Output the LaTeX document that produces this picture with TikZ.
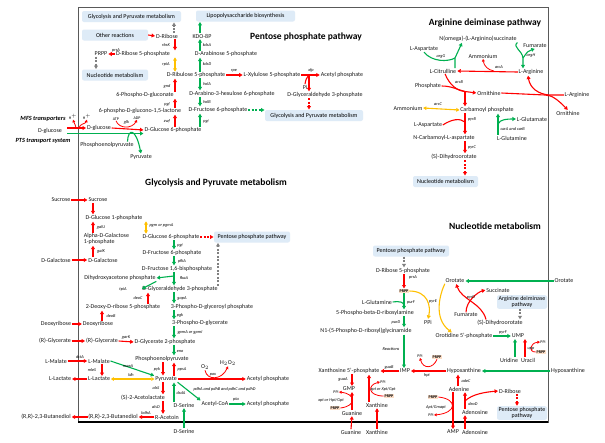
\documentclass[tikz,border=0pt]{standalone}
\usepackage{fontspec}
\setmainfont{Carlito}
\usetikzlibrary{arrows.meta}
\definecolor{myred}{RGB}{255,0,0}
\definecolor{mygreen}{RGB}{0,176,80}
\definecolor{myyel}{RGB}{255,192,0}
\definecolor{boxblue}{RGB}{222,235,247}
\definecolor{prppc}{RGB}{251,222,200}
\tikzset{
 lbl/.style={font=\fontsize{6}{6.6}\selectfont, inner sep=0.6pt, text=black!90},
 enz/.style={font=\fontsize{4.3}{4.6}\selectfont\itshape, inner sep=0.3pt},
 ttl/.style={font=\fontsize{9.5}{10}\selectfont\bfseries, inner sep=0pt},
 trs/.style={font=\fontsize{6.3}{7}\selectfont\bfseries\itshape, inner sep=0pt},
 pwbox/.style={fill=boxblue, rounded corners=2pt, font=\fontsize{6}{6.6}\selectfont, inner sep=1pt, minimum height=11pt},
 prppbox/.style={fill=prppc, font=\fontsize{4}{4.5}\selectfont\bfseries, inner sep=0.8pt},
 arr/.style={line width=1.1pt, -{Triangle[length=3.4pt,width=3.8pt]}, shorten >=0.3pt},
 redar/.style={arr, draw=myred},
 grnar/.style={arr, draw=mygreen},
 yelone/.style={arr, draw=myyel},
 yelar/.style={line width=1.1pt, draw=myyel, {Triangle[length=3.2pt,width=3.6pt]}-{Triangle[length=3.2pt,width=3.6pt]}},
 thinr/.style={line width=0.8pt, draw=myred, -{Triangle[length=2.6pt,width=2.8pt]}},
 dsh/.style={dash pattern=on 2pt off 1.5pt},
 greyd/.style={arr, draw=gray, dsh},
 frame/.style={draw=black!65, line width=1pt}
}
\begin{document}
\begin{tikzpicture}[x=1pt,y=-1pt]
\useasboundingbox (0,0) rectangle (605,442);
\fill[white] (0,0) rectangle (605,442);
\draw[frame] (78,7) rectangle (548,422);
\draw[black, line width=1.3pt] (78,422) -- (548,422);

% column coordinates
\coordinate (cA) at (175,0);
\coordinate (cB) at (200,0);
\coordinate (cG) at (174,0);
\coordinate (cP) at (96,0);

% ================= Pentose phosphate pathway =================
\node[pwbox, minimum width=99pt] (gpm1) at (131.5,16.5) {Glycolysis and Pyruvate metabolism};
\node[pwbox, minimum width=99pt] (lps) at (245.5,16) {Lipopolysaccharide biosynthesis};
\node[pwbox, minimum width=66pt] (oth) at (115,35) {Other reactions};
\node[pwbox, minimum width=66pt] (nuc1) at (115,75) {Nucleotide metabolism};
\node[ttl] (tppp) at (306,37) {Pentose phosphate pathway};

\node[lbl] (rib) at (167,36) {D-Ribose};
\node[lbl] (r5p) at (143,54) {D-Ribose 5-phosphate};
\node[lbl] (prpp1) at (101,54) {PRPP};
\node[lbl] (ru5p) at (196,75) {D-Ribulose 5-phosphate};
\node[lbl] (xu5p) at (272,75) {L-Xylulose 5-phosphate};
\node[lbl] (acp1) at (342,75) {Acetyl phosphate};
\node[lbl] (pi1) at (305,87) {Pi};
\node[lbl] (g3p1) at (325,95) {D-Glyceraldehyde 3-phosphate};
\node[pwbox, minimum width=98pt] (gpm2) at (314,115.5) {Glycolysis and Pyruvate metabolism};
\node[lbl] (kdo) at (202,36) {KDO-8P};
\node[lbl] (a5p) at (226,54) {D-Arabinose 5-phosphate};
\node[lbl] (hu6p) at (232,94) {D-Arabino-3-hexulose 6-phosphate};
\node[lbl] (f6p1) at (218,110) {D-Fructose 6-phosphate};
\node[lbl] (pgl) at (145,95) {6-Phospho-D-gluconate};
\node[lbl] (lac) at (140,111) {6-phospho-D-glucono-1,5-lactone};
\node[lbl] (g6p1) at (173,130) {D-Glucose 6-phosphate};

\draw[redar] (oth.east) -- (rib.west);
\draw[greyd] (rib.north -| cG) -- (gpm1.south -| cG);
\draw[redar] (rib.south -| cA) -- (r5p.north -| cA);
\node[enz] (e-rbsK) at (166,45) {rbsK};
\draw[redar] (r5p.west) -- (prpp1.east);
\node[enz] (e-prsA1) at (116,50) {prsA};
\draw[greyd] (prpp1.south -| cP) -- (nuc1.north -| cP);
\draw[yelar] (r5p.south -| cA) -- (ru5p.north -| cA);
\node[enz] (e-rpiA) at (166,64) {rpiA};
\draw[redar] (pgl.north -| cA) -- (ru5p.south -| cA);
\node[enz] (e-gnd) at (167,86) {gnd};
\draw[redar] (lac.north -| cA) -- (pgl.south -| cA);
\node[enz] (e-pgl) at (167,104) {pgl};
\draw[redar] (g6p1.north -| cA) -- (lac.south -| cA);
\node[enz] (e-zwf) at (167,121.5) {zwf};

\draw[grnar] (kdo.north -| cB) -- (lps.south -| cB);
\draw[grnar] (a5p.north -| cB) -- (kdo.south -| cB);
\node[enz] (e-kdsA) at (207,45) {kdsA};
\draw[grnar] (ru5p.north -| cB) -- (a5p.south -| cB);
\node[enz] (e-kdsD) at (207,64) {kdsD};
\draw[grnar] (ru5p.south -| cB) -- (hu6p.north -| cB);
\node[enz] (e-hxlA) at (207,84) {hxlA};
\draw[grnar] (hu6p.south -| cB) -- (f6p1.north -| cB);
\node[enz] (e-hxlB) at (207,102) {hxlB};
\draw[grnar] (g6p1.north -| cB) -- (f6p1.south -| cB);
\node[enz] (e-pgi1) at (206,121) {pgi};
\draw[grnar, dsh] (f6p1.east) -- (f6p1.east -| gpm2.west);

\draw[redar] (ru5p.east) -- (xu5p.west);
\node[enz] (e-rpe) at (234,71) {rpe};
\coordinate (xfpj) at (309,75);
\draw[redar] (xu5p.east) -- (acp1.west);
\node[enz] (e-xfp) at (311,70.5) {xfp};
\draw[myred, line width=1.1pt] (pi1.north) .. controls (306,79) .. (xfpj);
\draw[redar] (xfpj) -- (xfpj |- g3p1.north);
\draw[redar, dsh] (g3p1.south -| xfpj) -- (gpm2.north -| xfpj);

% transporters
\node[trs] (tmfs) at (43,119) {MFS transporters};
\node[trs] (tpts) at (43,141) {PTS transport system};
\node[lbl] (glcout) at (50,131) {D-glucose};
\node[lbl] (glcin) at (99,128) {D-glucose};
\coordinate (mfsS) at (67,128);
\coordinate (ptsS) at (67,133.5);
\draw[redar] (mfsS) -- (glcin.west);
\node[enz, font=\fontsize{4}{4.5}\selectfont] (hp1) at (73,116.5) {H$^+$};
\node[enz, font=\fontsize{4}{4.5}\selectfont] (hp2) at (87,116.5) {H$^+$};
\coordinate (mfs1) at (76,128);
\coordinate (mfs2) at (79,128);
\draw[thinr] (mfs1) to[out=100,in=-70] (hp1.south);
\draw[thinr] (mfs2) to[out=80,in=-110] (hp2.south);
\draw[redar] (glcin.east) -- (g6p1.west);
\node[enz, font=\fontsize{4}{4.5}\selectfont] (atp) at (116,119) {ATP};
\node[enz, font=\fontsize{4}{4.5}\selectfont] (adp) at (137,118) {ADP};
\node[enz] (e-glk) at (126.5,122) {glk};
\draw[thinr] (atp.south) .. controls (119,129) and (132,129) .. (adp.south);
\draw[grnar] (ptsS) -- (ptsS -| g6p1.west);
\node[lbl] (pep1) at (107,145) {Phosphoenolpyruvate};
\node[lbl] (pyr1) at (141,157) {Pyruvate};
\draw[grnar] ([xshift=-7pt]pep1.north east) .. controls (128,128) and (136,128) .. (pyr1.north);

% ================= Glycolysis =================
\node[ttl] (tgly) at (216,183) {Glycolysis and Pyruvate metabolism};
\coordinate (cL) at (93,0);
\node[lbl] (sucout) at (61,200) {Sucrose};
\node[lbl] (sucin) at (98,200) {Sucrose};
\node[lbl] (g1p) at (114,218) {D-Glucose 1-phosphate};
\node[lbl, align=left, anchor=west] (galp) at (83,239) {Alpha-D-Galactose\\[-0.5pt]1-phosphate};
\node[lbl] (galout) at (56,260) {D-Galactose};
\node[lbl] (galin) at (103,260) {D-Galactose};
\node[lbl] (g6p2) at (171,237) {D-Glucose 6-phosphate};
\node[pwbox, minimum width=76pt] (ppp2) at (252,237) {Pentose phosphate pathway};
\node[lbl] (f6p2) at (172,253) {D-Fructose 6-phosphate};
\node[lbl] (fbp) at (177,269) {D-Fructose 1,6-bisphosphate};
\node[lbl] (dhap) at (120,278) {Dihydroxyacetone phosphate};
\node[lbl] (g3p2) at (180,289) {D-Glyceraldehyde 3-phosphate};
\node[lbl] (dr5p) at (123,307) {2-Deoxy-D-ribose 5-phosphate};
\node[lbl] (bpg) at (212,307) {3-Phospho-D-glyceroyl phosphate};
\node[lbl] (drout) at (56,324) {Deoxyribose};
\node[lbl] (drin) at (98,324) {Deoxyribose};
\node[lbl] (pg3) at (200,323) {3-Phospho-D-glycerate};
\node[lbl] (glyout) at (55,341) {(R)-Glycerate};
\node[lbl] (glyin) at (102,341) {(R)-Glycerate};
\node[lbl] (pg2) at (165,342) {D-Glycerate 2-phosphate};
\node[lbl] (malout) at (56,361) {L-Malate};
\node[lbl] (malin) at (99,361) {L-Malate};
\node[lbl] (pep2) at (162,359) {Phosphoenolpyruvate};
\node[lbl] (lacout) at (60,379) {L-Lactate};
\node[lbl] (lacin) at (99,379) {L-Lactate};
\node[lbl] (pyr2) at (166,379) {Pyruvate};
\node[lbl] (acp2) at (268,379) {Acetyl phosphate};
\node[lbl] (o2) at (205,367) {O$_2$};
\node[lbl] (h2o2) at (228,363) {H$_2$O$_2$};
\node[lbl] (acl) at (143,398) {(S)-2-Acetolactate};
\node[lbl] (acoa) at (215,404) {Acetyl-CoA};
\node[lbl] (acp3) at (268,404) {Acetyl phosphate};
\node[lbl] (serin) at (184,405) {D-Serine};
\node[lbl] (acet) at (167,417) {R-Acetoin};
\node[lbl] (butin) at (113,417) {(R,R)-2,3-Butanediol};
\node[lbl] (butout) at (46,417) {(R,R)-2,3-Butanediol};
\node[lbl] (serout) at (184,431) {D-Serine};

\coordinate (cY) at (146,0);
\coordinate (cK) at (163,0);
\coordinate (cD) at (148,0);
\coordinate (cE) at (102,0);
\coordinate (cS) at (184,0);
\coordinate (cV) at (218,0);

\draw[redar] (sucout.east) -- (sucin.west);
\draw[redar] (sucin.south -| cL) -- (g1p.north -| cL);
\draw[redar] (galp.north -| cL) -- (g1p.south -| cL);
\node[enz] (e-galU) at (101,227) {galU};
\draw[redar] (galin.north -| cL) -- (galp.south -| cL);
\node[enz] (e-galK) at (101,251) {galK};
\draw[redar] (galout.east) -- (galin.west);
\draw[yelar] (g1p.south -| cY) -- (g6p2.north -| cY);
\node[enz, anchor=west] (e-pgm) at (149,225) {pgm or pgmA};
\draw[redar, dsh] (g6p2.east) -- (ppp2.west);
\draw[grnar] (g6p2.south -| cG) -- (f6p2.north -| cG);
\node[enz] (e-pgi2) at (180,245) {pgi};
\draw[grnar] (f6p2.south -| cG) -- (fbp.north -| cG);
\node[enz] (e-pfk) at (182,261) {pfkA};
\draw[grnar] (fbp.south -| cG) -- (g3p2.north -| cG);
\draw[grnar] (174,276) -- (dhap.east);
\node[enz] (e-fba) at (184,278) {fbaA};
\draw[grnar] (dhap.south east) -- (g3p2.west);
\node[enz] (e-tpi) at (123,289) {tpiA};
\draw[greyd] (g3p2.north -| cV) -- (ppp2.south -| cV);
\draw[redar] (dr5p.north -| cD) -- (g3p2.south -| cD);
\node[enz] (e-deoC) at (138,298) {deoC};
\draw[redar] (drin.north -| cE) -- (dr5p.south -| cE);
\node[enz] (e-deoB) at (111,316) {deoB};
\draw[redar] (drout.east) -- (drin.west);
\draw[redar] (glyout.east) -- (glyin.west);
\draw[redar] (glyin.east) -- (pg2.west);
\node[enz] (e-garK) at (126,337) {garK};
\draw[grnar] (g3p2.south -| cG) -- (bpg.north -| cG);
\node[enz] (e-gapA) at (182,298) {gapA};
\draw[grnar] (bpg.south -| cG) -- (pg3.north -| cG);
\node[enz] (e-pgk) at (180,315) {pgk};
\draw[grnar] (pg3.south -| cG) -- (pg2.north -| cG);
\node[enz, anchor=west] (e-gpm) at (177,332) {gpmA or gpmI};
\draw[grnar] (pg2.south -| cG) -- (pep2.north -| cG);
\node[enz] (e-eno) at (180,351) {eno};
\draw[redar] (pep2.south -| cK) -- (pyr2.north -| cK);
\node[enz] (e-pyk) at (157,369) {pyk};
\draw[redar] (pyr2.north -| cG) -- (pep2.south -| cG);
\node[enz] (e-pps) at (182,369) {ppsA};
\draw[redar] (malout.east) -- (malin.west);
\node[enz] (e-dct) at (80,357) {dctA};
\draw[redar] (malin.south -| cE) -- (lacin.north -| cE);
\node[enz] (e-mle) at (92,370) {mleS};
\draw[grnar] (malin.east) -- (pyr2.north west);
\node[enz] (e-mae) at (128,366) {maeA};
\draw[redar] (lacin.west) -- (lacout.east);
\draw[yelar] (lacin.east) -- (pyr2.west);
\node[enz] (e-ldh) at (131,375) {ldh};
\draw[redar] (pyr2.east) -- (acp2.west);
\draw[thinr] (o2.south) .. controls (207,381) and (222,380) .. (h2o2.south);
\node[enz] (e-pox) at (213,375) {pox};
\draw[redar] (pyr2.south -| cK) -- (acl.north -| cK);
\node[enz] (e-als) at (156,388) {alsS};
\draw[redar] (acl.south -| cK) -- (acet.north -| cK);
\node[enz] (e-alsD) at (156,407) {alsD};
\draw[redar] (acet.west) -- (butin.east);
\node[enz] (e-bdh) at (146,413) {bdhA};
\draw[redar] (butin.west) -- (butout.east);
\draw[grnar] (pyr2.south east) -- (acoa.north west);
\node[enz, anchor=west] (e-pdh) at (193,389) {pdhA and pdhB and pdhC and pdhD};
\draw[grnar] (serin.north -| cG) -- (pyr2.south -| cG);
\node[enz] (e-dsd) at (181,393) {dsdA};
\draw[grnar] (serout.north) -- (serin.south);
\draw[grnar] (acoa.east) -- (acp3.west);
\node[enz] (e-pta) at (236,399.5) {pta};

% ================= Arginine deiminase pathway =================
\node[ttl] (targ) at (485,23) {Arginine deiminase pathway};
\node[lbl] (nas) at (478,39) {N(omega)-(L-Arginino)succinate};
\node[lbl] (asp1) at (424,49) {L-Aspartate};
\node[lbl] (fum1) at (535,46) {Fumarate};
\node[lbl] (amm1) at (483,56) {Ammonium};
\node[lbl] (cit) at (443,71) {L-Citrulline};
\node[lbl] (argin) at (531,72) {L-Arginine};
\node[lbl] (phos) at (428,86) {Phosphate};
\node[lbl] (orn) at (489,93) {Ornithine};
\node[lbl] (argout) at (577,95) {L-Arginine};
\node[lbl] (ornout) at (568,113) {Ornithine};
\node[lbl] (amm2) at (408,108) {Ammonium};
\node[lbl] (cp) at (487,110) {Carbamoyl phosphate};
\node[lbl] (asp2) at (428,125) {L-Aspartate};
\node[lbl] (glu) at (532,119) {L-Glutamate};
\node[lbl] (gln1) at (512,138) {L-Glutamine};
\node[lbl] (nca) at (444,138) {N-Carbamoyl-L-aspartate};
\node[lbl] (dho1) at (454,157) {(S)-Dihydroorotate};
\node[pwbox, minimum width=65pt] (nuc2) at (445.5,181.5) {Nucleotide metabolism};

\coordinate (cQ) at (465,0);
\coordinate (cW) at (498,0);
\coordinate (argj) at (455,58);
\draw[mygreen, line width=1.1pt] (asp1.south) .. controls (432,62) and (448,62) .. (argj);
\draw[grnar] (cit.north -| argj) -- (argj) .. controls (458,52) .. (nas.south -| 462,0);
\node[enz] (e-argG) at (441,56) {argG};
\coordinate (argh) at (523,58);
\draw[grnar] (nas.south east) .. controls (512,47) and (522,50) .. (argh) -- (argin.north -| argh);
\draw[grnar] (argh) .. controls (528,51) .. (fum1.south);
\node[enz] (e-argH) at (531,55) {argH};
\draw[redar] (argin.west) -- (cit.east);
\node[enz] (e-arcA) at (499,67.5) {arcA};
\draw[thinr] (494,71) .. controls (488,70) and (484,66) .. (amm1.south);
\coordinate (arcbj) at (465,91.5);
\draw[redar] ([xshift=2pt]cit.south) .. controls (450,86) and (458,91) .. (arcbj) -- (orn.west);
\draw[myred, line width=1.1pt] (phos.east) .. controls (452,86) and (458,90) .. (arcbj);
\draw[redar] (arcbj) -- (cp.north -| cQ);
\node[enz] (e-arcB) at (459,82) {arcB};
\coordinate (adj) at (549,95);
\draw[redar] (argout.west) -- (adj) .. controls (538,94) and (530,88) .. (argin.south -| 528,0);
\draw[redar] (orn.east) -- (545,95) .. controls (552,95) and (558,100) .. (ornout.north);
\draw[yelar] (amm2.east) -- (cp.west);
\node[enz] (e-arcC) at (438,104) {arcC};
\coordinate (pyrbj) at (465,122);
\draw[redar] (cp.south -| cQ) -- (nca.north -| cQ);
\draw[myred, line width=1.1pt] (asp2.east) .. controls (452,119) and (460,118) .. (pyrbj);
\node[enz] (e-pyrB) at (472,119) {pyrB};
\draw[redar] (nca.south -| cQ) -- (dho1.north -| cQ);
\node[enz] (e-pyrC) at (472,147) {pyrC};
\draw[redar, dsh] (dho1.south -| cQ) -- (nuc2.north -| cQ);
\coordinate (carj) at (498,124);
\draw[grnar] (gln1.north -| cW) -- (cp.south -| cW);
\draw[grnar] (carj) .. controls (500,119) and (508,119) .. (glu.west);
\node[enz, anchor=west] (e-car) at (500,129.5) {carA and carB};

% ================= Nucleotide metabolism =================
\node[ttl] (tnuc) at (495,226) {Nucleotide metabolism};
\node[pwbox, minimum width=76pt] (ppp3) at (411,251) {Pentose phosphate pathway};
\node[lbl] (r5p2) at (403,271) {D-Ribose 5-phosphate};
\node[prppbox] (prpp2) at (404,291) {PRPP};
\node[lbl] (gln2) at (377,302) {L-Glutamine};
\node[lbl] (prb) at (375,313) {5-Phospho-beta-D-ribosylamine};
\node[lbl] (gar) at (366,331) {N1-(5-Phospho-D-ribosyl)glycinamide};
\node[lbl] (imp) at (405,371) {IMP};
\node[lbl] (xmp) at (349,371) {Xanthosine 5'-phosphate};
\node[lbl] (hyp) at (464,371) {Hypoxanthine};
\node[lbl] (hypout) at (568,371) {Hypoxanthine};
\node[lbl] (gmp) at (349,389) {GMP};
\node[lbl] (guain) at (352,413) {Guanine};
\node[lbl] (xanin) at (377,405) {Xanthine};
\node[lbl] (guaout) at (351,432) {Guanine};
\node[lbl] (xanout) at (377,432) {Xanthine};
\node[lbl] (ade) at (459,389) {Adenine};
\node[lbl] (ados) at (475,412) {Adenosine};
\node[lbl] (adosout) at (475,432) {Adenosine};
\node[lbl] (amp) at (453,432) {AMP};
\node[lbl] (ribN) at (510,391) {D-Ribose};
\node[pwbox, align=center, minimum width=50pt, font=\fontsize{6}{6.4}\selectfont] (ppp4) at (522,413) {Pentose phosphate\\pathway};
\node[lbl] (oro) at (455,281) {Orotate};
\node[lbl] (oroout) at (564,281) {Orotate};
\node[lbl] (suc) at (498,290) {Succinate};
\node[lbl] (fum2) at (466,315) {Fumarate};
\node[lbl] (dho2) at (500,323) {(S)-Dihydroorotate};
\node[pwbox, align=center, minimum width=50pt, font=\fontsize{6}{6.4}\selectfont] (adp) at (522,302) {Arginine deiminase\\pathway};
\node[lbl] (ppi1) at (428,322) {PPi};
\node[lbl] (omp) at (464,336) {Orotidine 5'-phosphate};
\node[lbl] (ump) at (518,336) {UMP};
\node[lbl] (urd) at (509,360) {Uridine};
\node[lbl] (ura) at (528,360) {Uracil};

\coordinate (cN) at (404,0);
\coordinate (cX) at (352,0);
\coordinate (cXa) at (369,0);
\coordinate (cAd) at (465,0);
\coordinate (cAh) at (458,0);
\coordinate (cAm) at (453,0);
\coordinate (cR) at (517,0);
\coordinate (cO) at (456,0);
\coordinate (cDh) at (520,0);

\draw[greyd] (ppp3.south -| cN) -- (r5p2.north -| cN);
\draw[redar] (r5p2.south -| cN) -- (prpp2.north);
\node[enz] (e-prsA2) at (413,277) {prsA};
\coordinate (purfj) at (404,306);
\draw[mygreen, line width=1.1pt] (gln2.east) .. controls (400,301) and (404,302) .. (purfj);
\draw[grnar] (prpp2.south) -- (prb.north -| cN);
\node[enz] (e-purF) at (411,302) {purF};
\draw[grnar] (prb.south -| cN) -- (gar.north -| cN);
\node[enz] (e-purD) at (396,322) {purD};
\draw[grnar] (gar.south -| cN) -- (imp.north -| cN);
\node[enz] (e-react) at (391,349) {Reactions};

\draw[redar] (imp.west) -- (xmp.east);
\node[enz] (e-guaB) at (389,367) {guaB};
\draw[redar] (hyp.west) -- (imp.east);
\node[prppbox] (hprpp) at (437,357) {PRPP};
\node[enz, font=\fontsize{4}{4.5}\selectfont] (hppi) at (420,356) {PPi};
\draw[thinr] (hprpp.south) .. controls (433,369) and (423,369) .. (hppi.south);
\node[enz] (e-hpt) at (427,375) {hpt};
\draw[grnar] (hypout.west) -- (hyp.east);

\draw[redar] (xmp.south -| cX) -- (gmp.north -| cX);
\node[enz] (e-guaA) at (343,379) {guaA};
\draw[redar] (guain.north -| cX) -- (gmp.south -| cX);
\node[prppbox] (gprpp) at (335,408) {PRPP};
\node[enz, font=\fontsize{4}{4.5}\selectfont] (gppi) at (336,392) {PPi};
\draw[thinr] (gprpp.east) .. controls (357,406) and (356,394) .. (gppi.east);
\node[enz] (e-gpt) at (331,400.5) {xpt or Hpt/Gpt};
\draw[redar] (guaout.north) -- (guain.south);
\draw[redar] (xanout.north) -- (xanin.south);
\draw[redar] (xanin.north -| cXa) -- (xmp.south -| cXa);
\node[prppbox] (xprpp) at (389,396) {PRPP};
\node[enz, font=\fontsize{4}{4.5}\selectfont] (xppi) at (383,382) {PPi};
\draw[thinr] (xprpp.west) .. controls (368,396) and (367,385) .. (xppi.west);
\node[enz] (e-xpt) at (383,389) {xpt or Xpt/Gpt};

\draw[redar] (ade.south -| cAm) -- (amp.north -| cAm);
\node[prppbox] (aprpp) at (433,397) {PRPP};
\node[enz, font=\fontsize{4}{4.5}\selectfont] (appi) at (431,415) {PPi};
\draw[thinr] (aprpp.east) .. controls (458,399) and (457,413) .. (appi.east);
\node[enz] (e-apt) at (436,407) {Apt/Gmapt};
\draw[redar] (ade.north -| cAh) -- (hyp.south -| cAh);
\node[enz] (e-ade) at (466,381) {adeC};
\coordinate (deodj) at (465,401);
\draw[redar] (ados.north -| cAd) -- (ade.south -| cAd);
\draw[redar] (deodj) .. controls (472,394) and (486,392) .. (ribN.west);
\node[enz] (e-deoD) at (473,404) {deoD};
\draw[redar, dsh] (ribN.south -| cR) -- (ppp4.north -| cR);
\draw[redar] (adosout.north -| cAd) -- (ados.south -| cAd);

\draw[grnar] (oroout.west) -- (oro.east);
\draw[redar] ([xshift=-14pt]dho2.north) .. controls (482,303) and (462,300) .. (oro.south -| cO);
\draw[redar] (fum2.north) .. controls (466,301) and (478,292) .. (suc.west);
\node[enz] (e-pyrD) at (471,297) {pyrD};
\draw[greyd] (adp.south -| cDh) -- (dho2.north -| cDh);
\draw[yelone] (prpp2.east) .. controls (428,291) and (431,306) .. (ppi1.north);
\draw[yelone] (oro.south west) .. controls (440,294) and (433,318) .. ([xshift=-12pt]omp.north);
\node[enz] (e-pyrE) at (433,301) {pyrE};
\draw[grnar] (omp.east) -- (ump.west);
\node[enz] (e-pyrF) at (503,332) {pyrF};
\draw[grnar] (urd.north -| 515,0) -- (ump.south -| 515,0);
\draw[redar] (ura.north -| 525,0) -- (ump.south -| 525,0);
\node[prppbox] (uprpp) at (541,352) {PRPP};
\node[enz, font=\fontsize{4}{4.5}\selectfont] (uppi) at (543,342) {PPi};
\draw[thinr] (uprpp.west) .. controls (528,352) and (530,343) .. (uppi.west);
\node[enz] (e-upp) at (531,348.5) {upp};
\end{tikzpicture}
\end{document}
